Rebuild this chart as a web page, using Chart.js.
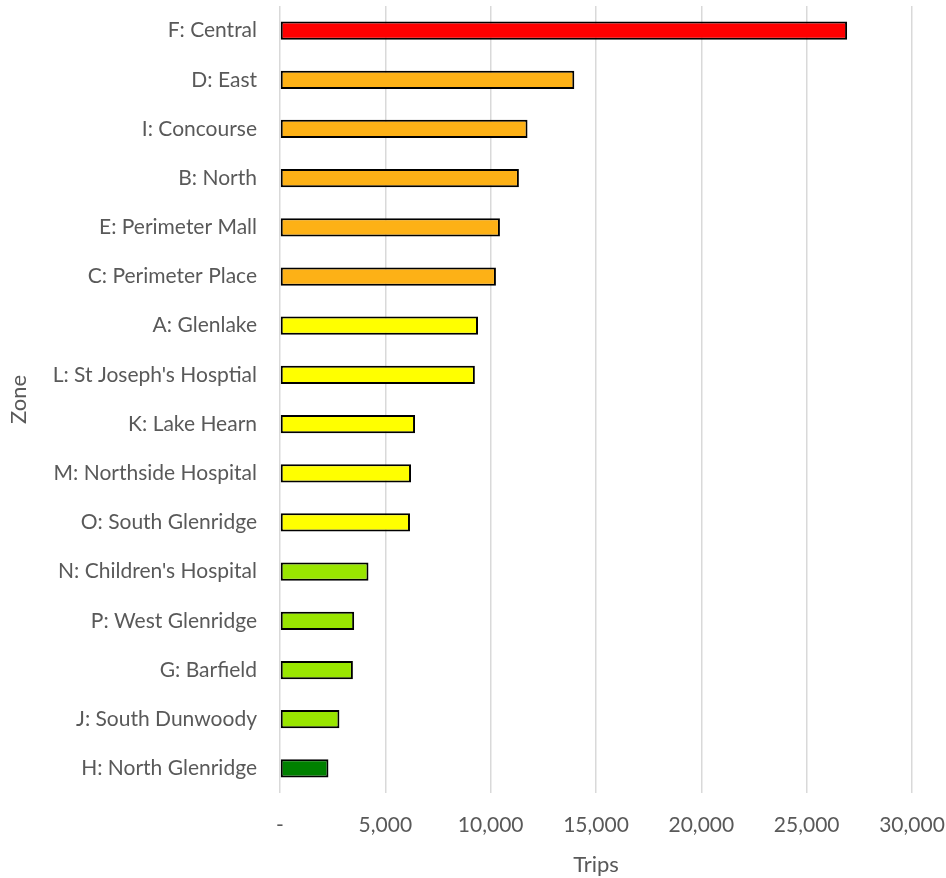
<!DOCTYPE html>
<html>
<head>
<meta charset="utf-8">
<script src="https://cdn.jsdelivr.net/npm/chart.js@4"></script>
<style>
  body { margin: 0; background: #fff; }
  #wrap { width: 946px; height: 878px; position: relative; }
</style>
</head>
<body>
<div id="wrap"><canvas id="zoneChart"></canvas></div>
<script>
const zones = ["F: Central", "D: East", "I: Concourse", "B: North", "E: Perimeter Mall",
  "C: Perimeter Place", "A: Glenlake", "L: St Joseph's Hosptial", "K: Lake Hearn",
  "M: Northside Hospital", "O: South Glenridge", "N: Children's Hospital",
  "P: West Glenridge", "G: Barfield", "J: South Dunwoody", "H: North Glenridge"];
const trips = [26920, 13970, 11750, 11340, 10440, 10250, 9400, 9250, 6410, 6220, 6170, 4200, 3520, 3460, 2820, 2300];
const barColors = ["#FF0000", "#FDB116", "#FDB116", "#FDB116", "#FDB116", "#FDB116",
  "#FFFF00", "#FFFF00", "#FFFF00", "#FFFF00", "#FFFF00",
  "#99E600", "#99E600", "#99E600", "#99E600", "#008000"];
const xTicks = [0, 5000, 10000, 15000, 20000, 25000, 30000];

const font = "Lato, 'Open Sans', sans-serif";
const grey = "#595959";

document.addEventListener("DOMContentLoaded", function () {
  const ctx = document.getElementById("zoneChart");
  new Chart(ctx, {
    type: 'bar',
    data: {
      labels: zones,
      datasets: [{
        label: "Trips",
        data: trips,
        backgroundColor: barColors,
        borderColor: "#000000",
        borderWidth: 2,
        borderSkipped: false,
        barPercentage: 0.37,
        categoryPercentage: 1
      }]
    },
    options: {
      indexAxis: 'y',
      responsive: true,
      maintainAspectRatio: false,
      animation: false,
      layout: { padding: { top: 6, right: 34, left: 0, bottom: 0 } },
      plugins: {
        legend: { display: false },
        tooltip: { enabled: false }
      },
      scales: {
        x: {
          min: 0,
          max: 30000,
          afterBuildTicks: function (scale) {
            scale.ticks = xTicks.map(v => ({ value: v }));
          },
          afterFit: function (scale) {
            scale.height = 85;
            scale.paddingLeft = 0;
            scale.paddingRight = 0;
          },
          grid: { color: "#D9D9D9", lineWidth: 1.5, drawTicks: false },
          border: { display: false },
          ticks: {
            padding: 20,
            color: grey,
            font: { family: font, size: 21 },
            callback: function (v) { return v === 0 ? "-" : v.toLocaleString("en-US"); }
          },
          title: {
            display: true,
            text: "Trips",
            color: grey,
            font: { family: font, size: 22 },
            padding: { top: 2, bottom: 0 }
          }
        },
        y: {
          afterFit: function (scale) {
            scale.width = 280;
            scale.paddingTop = 0;
            scale.paddingBottom = 0;
          },
          grid: { display: false, drawTicks: false },
          border: { display: false },
          ticks: {
            padding: 23,
            color: grey,
            font: { family: font, size: 21 }
          },
          title: {
            display: true,
            text: "Zone",
            color: grey,
            font: { family: font, size: 22 },
            padding: { top: 6, bottom: 0 }
          }
        }
      }
    }
  });
});
</script>
</body>
</html>
